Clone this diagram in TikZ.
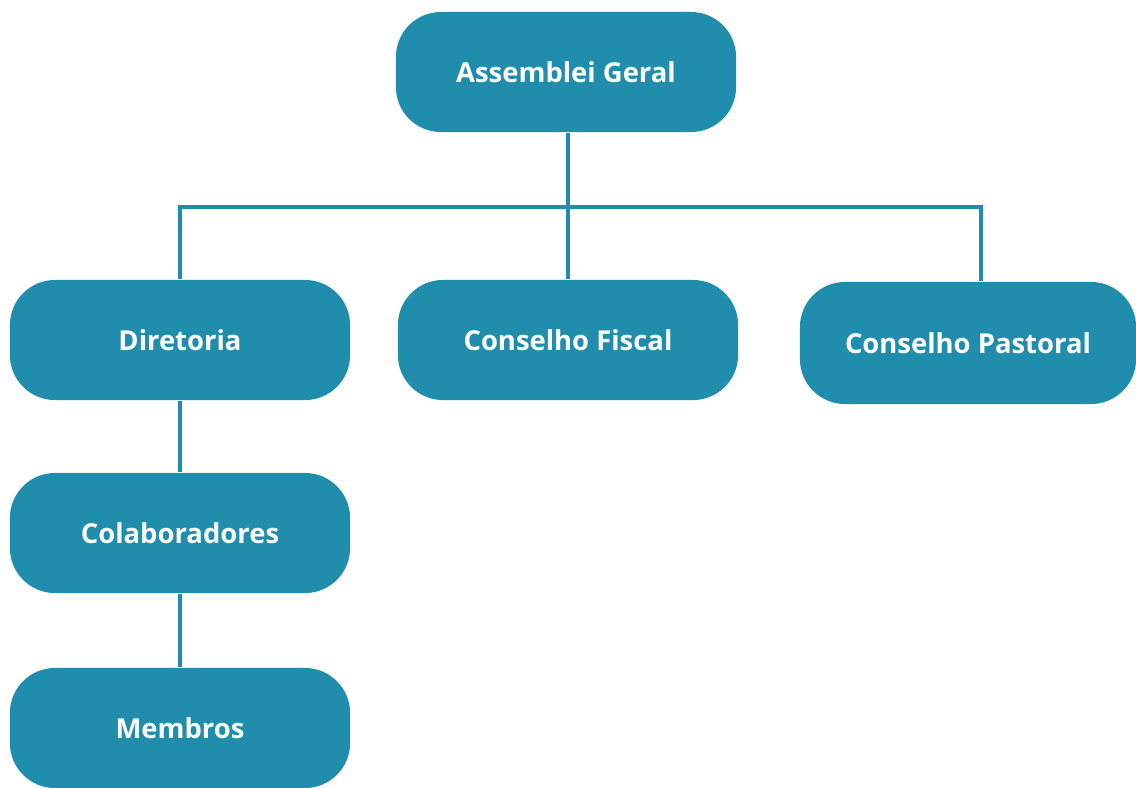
\documentclass[tikz,border=0pt]{standalone}
\usepackage{fontspec}
\setmainfont{Open Sans}
\usepackage{xcolor}
\definecolor{azul}{HTML}{1F8DAB}
\usetikzlibrary{positioning}
\tikzset{
  caixa/.style={fill=azul, text=white, rounded corners=0.45cm,
    minimum width=3.4cm, minimum height=1.2cm,
    font=\fontsize{7.8}{9}\selectfont\bfseries},
  ligacao/.style={draw=azul, line width=0.9pt}
}

\begin{document}
\begin{tikzpicture}[x=0.01cm, y=-0.01cm]

% Moldura
\useasboundingbox (0,0) rectangle (1136,787);

% Caixas
\node[caixa] (assembleia) at (566,72) {Assemblei Geral};
\node[caixa] (diretoria) at (180,340) {Diretoria};
\node[caixa] (fiscal) at (568,340) {Conselho Fiscal};
\node[caixa, minimum width=3.36cm, minimum height=1.22cm] (pastoral) at (968,343) {Conselho Pastoral};
\node[caixa] (colab) at (180,533) {Colaboradores};
\node[caixa] (membros) at (180,728) {Membros};

% Barra horizontal
\coordinate (barra) at (568,207);
\coordinate (barraR) at (981,207);

% Ligacoes
\draw[ligacao] (assembleia.south -| fiscal.north) -- (fiscal.north);
\draw[ligacao] (diretoria.north) |- (barraR) -- (barraR |- pastoral.north);
\draw[ligacao] (diretoria) -- (colab);
\draw[ligacao] (colab) -- (membros);

\end{tikzpicture}
\end{document}
